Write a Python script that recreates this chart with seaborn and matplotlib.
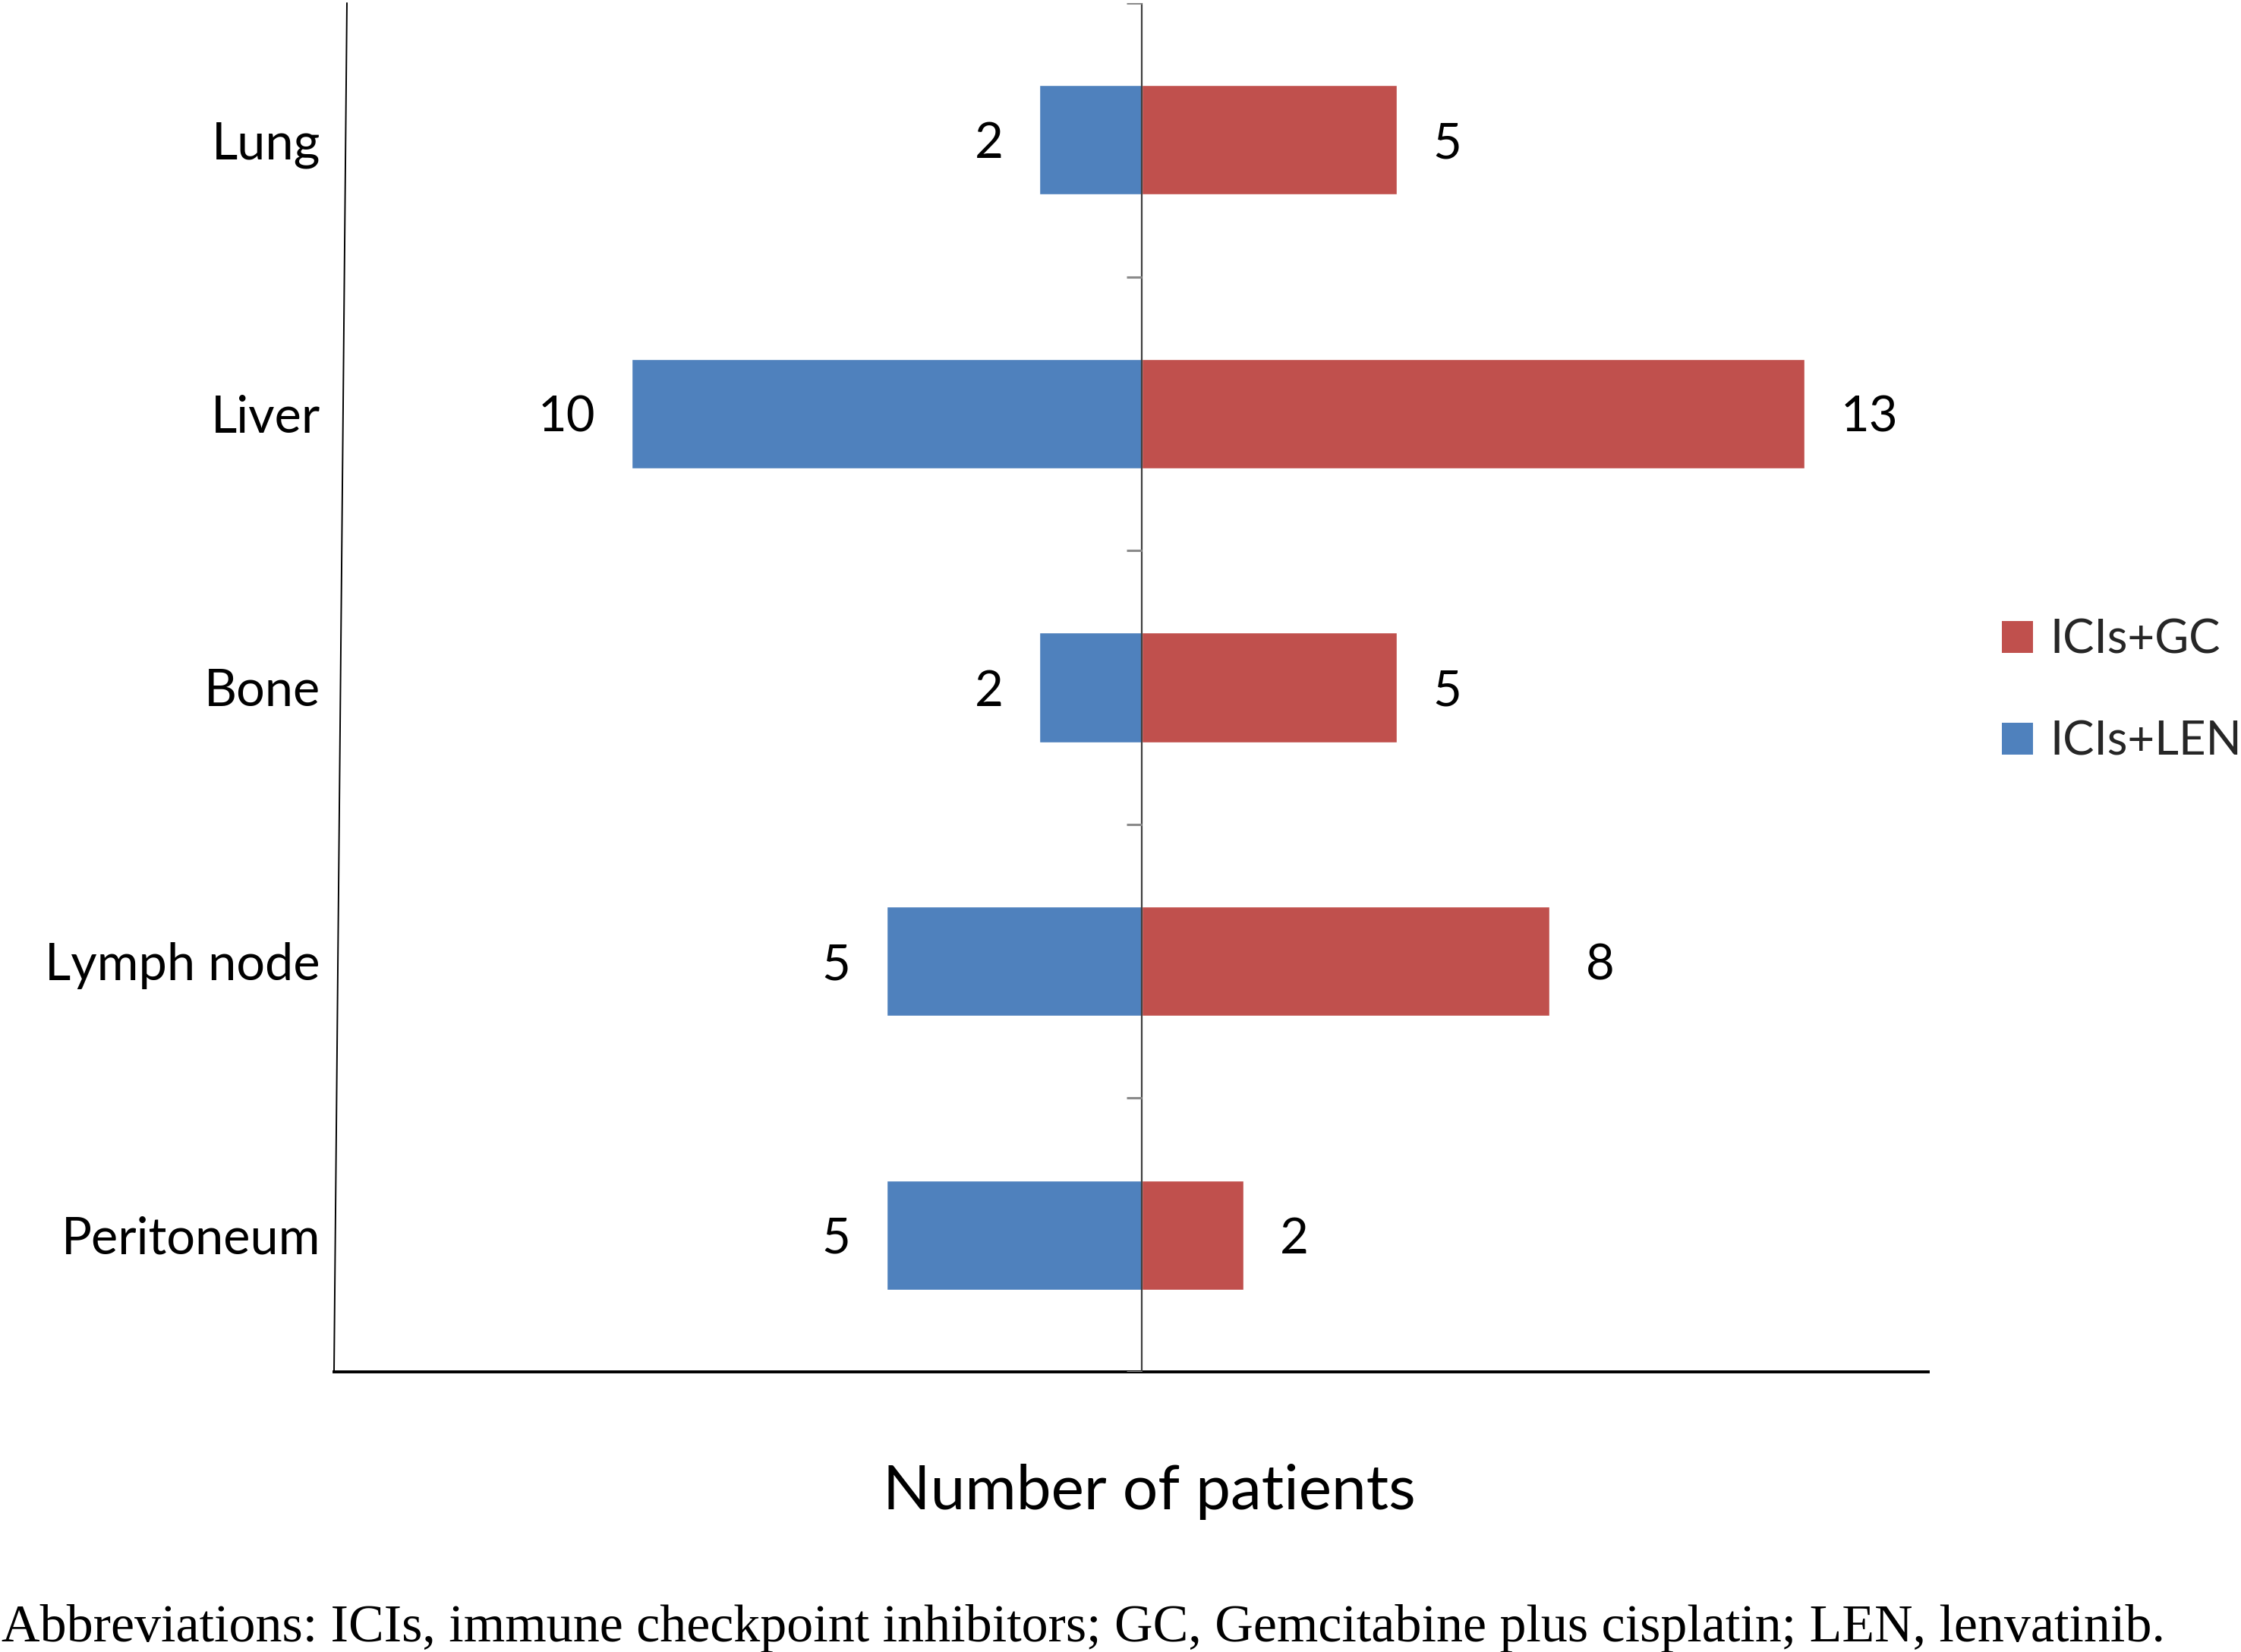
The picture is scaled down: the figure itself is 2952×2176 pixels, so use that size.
import matplotlib
matplotlib.use("Agg")
import matplotlib.pyplot as plt
import seaborn as sns
import pandas as pd
import numpy as np
from matplotlib.patches import Patch
from matplotlib.lines import Line2D

# ---- data ----
sites = ["Lung", "Liver", "Bone", "Lymph node", "Peritoneum"]
gc_counts = [5, 13, 5, 8, 2]      # ICIs+GC
len_counts = [2, 10, 2, 5, 5]     # ICIs+LEN
series_names = ["ICIs+GC", "ICIs+LEN"]
xlabel_text = "Number of patients"
footnote = ("Abbreviations: ICIs, immune checkpoint inhibitors; GC, Gemcitabine plus "
            "cisplatin; LEN, lenvatinib.")

RED = "#C0504D"
BLUE = "#4F81BD"

sns.set_theme(style="white")
plt.rcParams["font.family"] = ["Lato", "DejaVu Sans"]

W, H = 2952, 2176
fig = plt.figure(figsize=(W / 100, H / 100), dpi=100)
ax_left, ax_right, ax_bottom, ax_top = 440, 2540, 1807, 4
ax = fig.add_axes([ax_left / W, 1 - ax_bottom / H,
                   (ax_right - ax_left) / W, (ax_bottom - ax_top) / H])

df = pd.DataFrame({"site": sites,
                   "gc": gc_counts,
                   "len_neg": [-v for v in len_counts]})

sns.barplot(data=df, y="site", x="len_neg", color=BLUE, width=0.4,
            saturation=1, ax=ax, orient="h")
sns.barplot(data=df, y="site", x="gc", color=RED, width=0.4,
            saturation=1, ax=ax, orient="h")

ax.set_xlim(-15.83, 15.42)
ax.set_ylim(4.5, -0.5)

# value labels
fs = 47
for cont, vals in zip(ax.containers, [len_counts, gc_counts]):
    txts = ax.bar_label(cont, labels=[str(v) for v in vals],
                        padding=34, fontsize=fs, color="black")
    for t in txts:
        t.set_va("center_baseline")

# center axis line with boundary ticks
ax.axvline(0, color="#404040", lw=1.6, zorder=3)
bounds = np.arange(-0.5, len(sites) - 0.4, 1.0)
ax.hlines(bounds, -0.3, 0, color="#8a8a8a", lw=2.2, zorder=3)

# spines
for s in ["top", "right", "left"]:
    ax.spines[s].set_visible(False)
ax.spines["bottom"].set_color("black")
ax.spines["bottom"].set_linewidth(2.8)
# slightly slanted left axis line
ax.add_line(Line2D([0, (457 - 440) / (ax_right - ax_left)], [0, 1],
                   transform=ax.transAxes, color="black", lw=1.4, clip_on=False))

ax.set_xticks([])
ax.tick_params(axis="y", length=0, pad=13, labelsize=48, labelcolor="black")
ax.set_ylabel("")
ax.set_xlabel(xlabel_text, fontsize=59, color="black")
ax.xaxis.label.set_va("baseline")
ax.xaxis.set_label_coords((1514 - ax_left) / (ax_right - ax_left),
                          -(1988 - ax_bottom) / (ax_bottom - ax_top))

handles = [Patch(facecolor=RED, edgecolor="none"),
           Patch(facecolor=BLUE, edgecolor="none")]
fig.legend(handles, series_names, loc="center left",
           bbox_to_anchor=(2637 / W, 1 - 910 / H), frameon=False,
           fontsize=44.5, handlelength=0.67, handleheight=0.67,
           handletextpad=0.36, labelspacing=1.25, borderpad=0,
           borderaxespad=0)

fig.text(2 / W, 1 - 2162 / H, footnote, fontsize=50.4, va="baseline",
         ha="left", family=["Liberation Serif", "DejaVu Serif"], color="black")

fig.savefig("out.png", dpi=100, facecolor="white")
